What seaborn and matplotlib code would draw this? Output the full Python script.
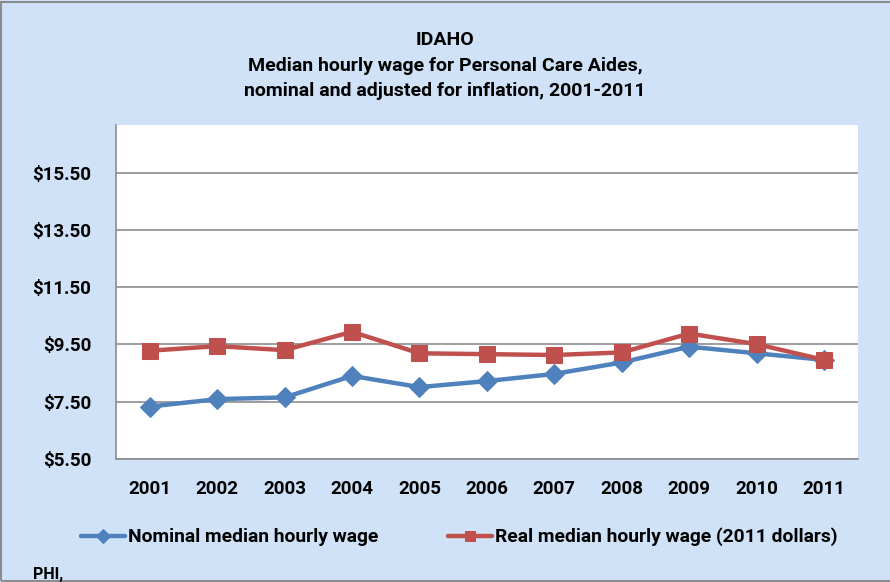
import matplotlib
matplotlib.use("Agg")
import matplotlib.pyplot as plt
import seaborn as sns
import pandas as pd
from matplotlib.patches import Rectangle

years = [2001, 2002, 2003, 2004, 2005, 2006, 2007, 2008, 2009, 2010, 2011]
nominal = [7.33, 7.59, 7.65, 8.40, 8.01, 8.22, 8.47, 8.87, 9.42, 9.19, 8.96]
real = [9.28, 9.44, 9.30, 9.94, 9.19, 9.16, 9.13, 9.22, 9.88, 9.51, 8.96]
yticks = [5.5, 7.5, 9.5, 11.5, 13.5, 15.5]
ytick_labels = ["$5.50", "$7.50", "$9.50", "$11.50", "$13.50", "$15.50"]
series_names = ["Nominal median hourly wage", "Real median hourly wage (2011 dollars)"]

sns.set_theme(style="white")
plt.rcParams['font.family'] = ['Roboto', 'DejaVu Sans']
plt.rcParams['text.color'] = 'black'
plt.rcParams['xtick.color'] = 'black'
plt.rcParams['ytick.color'] = 'black'

bg = "#CFE2F8"
blue = "#4F81BD"
red = "#C0504D"

fig = plt.figure(figsize=(8.9, 5.82), dpi=100, facecolor=bg)
ax = fig.add_axes([116/890, 1-459/582, (857.7-116)/890, (459-125)/582])
ax.set_facecolor("white")

df = pd.DataFrame({"year": years, "nominal": nominal, "real": real})
sns.lineplot(data=df, x="year", y="nominal", ax=ax, color=blue, lw=3.2,
             marker="D", markersize=10, markeredgecolor=blue, label=series_names[0], legend=False)
sns.lineplot(data=df, x="year", y="real", ax=ax, color=red, lw=3.2,
             marker="s", markersize=11, markeredgecolor=red, label=series_names[1], legend=False)

ax.set_xlim(2000.5, 2011.5)
ax.set_ylim(5.5, 17.16)
ax.set_yticks(yticks)
ax.set_yticklabels(ytick_labels, fontsize=13.5, fontweight="bold", color="black")
ax.set_xticks(years)
ax.set_xticklabels([str(y) for y in years], fontsize=13.5, fontweight="bold", color="black")
ax.tick_params(axis="x", length=0, pad=15)
ax.tick_params(axis="y", length=0, pad=18)
ax.set_xlabel("")
ax.set_ylabel("")
ax.grid(axis="y", color="#8C8C8C", lw=1.2)
ax.set_axisbelow(True)
for s in ["top", "right"]:
    ax.spines[s].set_visible(False)
for s in ["left", "bottom"]:
    ax.spines[s].set_color("#8C8C8C")
    ax.spines[s].set_linewidth(1.2)

for ypix, txt in [(40, "IDAHO"), (66, "Median hourly wage for Personal Care Aides,"),
                  (91, "nominal and adjusted for inflation, 2001-2011")]:
    fig.text(0.5, 1-ypix/582, txt, ha="center", va="center", fontsize=14, fontweight="bold", color="black")

handles, labels = ax.get_legend_handles_labels()
leg = fig.legend(handles, labels, loc="center", bbox_to_anchor=(459/890, 1-537/582), ncol=2,
                 frameon=False, handlelength=2.3, handletextpad=0.15,
                 columnspacing=3.6, prop={"weight": "bold", "size": 13.9})
for t in leg.get_texts():
    t.set_color("black")
for h in leg.legend_handles:
    h.set_markersize(7)

fig.text(33/890, 1-574/582, "PHI,", ha="left", va="center", fontsize=11.5, fontweight="bold", color="black")

fig.patches.append(Rectangle((0.001, 0.002), 1.2, 0.995, transform=fig.transFigure,
                             fill=False, edgecolor="#8C8C8C", lw=1.5))

fig.savefig("out.png", dpi=100, facecolor=bg)
